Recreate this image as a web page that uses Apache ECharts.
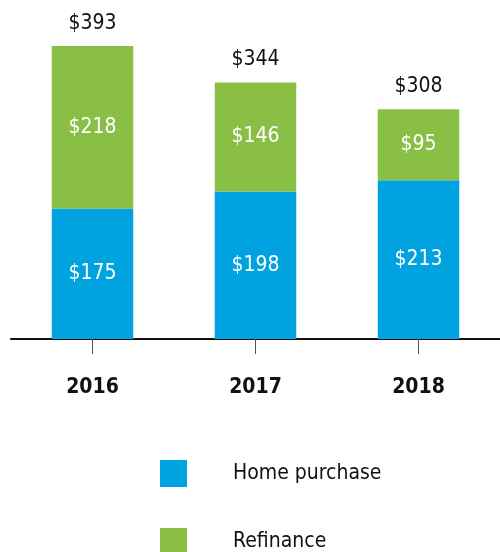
<!DOCTYPE html>
<html>
<head>
<meta charset="utf-8">
<title>Mortgage originations</title>
<script src="https://cdn.jsdelivr.net/npm/echarts@6/dist/echarts.min.js"></script>
<style>
  html, body { margin: 0; padding: 0; background: #fff; }
  #myChart { width: 500px; height: 552px; }
</style>
</head>
<body>
<div id="myChart"></div>
<script>
    var years = ['2016', '2017', '2018'];
    var homePurchase = [175, 198, 213];
    var refinance = [218, 146, 95];
    var totals = [393, 344, 308];

    var fontName = '"Liberation Sans Narrow", "DejaVu Sans Condensed", "Roboto", sans-serif';

    // one legend per row, the second one runs off the bottom like the original
    function legendRow(name, top) {
        return {
            orient: 'vertical',
            left: 160,
            top: top,
            padding: 0,
            itemWidth: 27,
            itemHeight: 27,
            icon: 'rect',
            selectedMode: false,
            data: [name],
            textStyle: {
                fontFamily: fontName,
                fontSize: 21,
                color: '#111',
                padding: [0, 0, 0, 41]
            }
        };
    }

    var chart = echarts.init(document.getElementById('myChart'));
    var option = {
        animation: false,
        grid: {
            left: 11,
            right: 0,
            top: 46,
            bottom: 213
        },
        legend: [legendRow('Home purchase', 460), legendRow('Refinance', 528)],
        xAxis: {
            type: 'category',
            data: years,
            axisLine: {
                lineStyle: { color: '#111', width: 2 }
            },
            axisTick: {
                show: true,
                alignWithLabel: true,
                length: 15,
                lineStyle: { color: '#555', width: 1 }
            },
            axisLabel: {
                margin: 38,
                fontFamily: fontName,
                fontSize: 21,
                fontWeight: 'bold',
                color: '#111'
            }
        },
        yAxis: {
            type: 'value',
            min: 0,
            max: 393,
            show: false,
            splitLine: { show: false }
        },
        series: [{
            name: 'Home purchase',
            type: 'bar',
            stack: 'total',
            barWidth: '50%',
            data: homePurchase,
            itemStyle: { color: '#00a3e0' },
            label: {
                show: true,
                position: 'inside',
                formatter: '${c}',
                fontFamily: fontName,
                fontSize: 21,
                color: '#fff'
            }
        }, {
            name: 'Refinance',
            type: 'bar',
            stack: 'total',
            data: refinance,
            itemStyle: { color: '#8abf46' },
            label: {
                show: true,
                position: 'inside',
                formatter: '${c}',
                fontFamily: fontName,
                fontSize: 21,
                color: '#fff'
            }
        }, {
            name: 'Total',
            type: 'bar',
            stack: 'total',
            data: totals.map(function () { return 0; }),
            itemStyle: { color: 'transparent' },
            label: {
                show: true,
                position: 'top',
                distance: 12,
                formatter: function (p) { return '$' + totals[p.dataIndex]; },
                fontFamily: fontName,
                fontSize: 21,
                color: '#111'
            }
        }]
    };
    chart.setOption(option);
</script>
</body>
</html>
